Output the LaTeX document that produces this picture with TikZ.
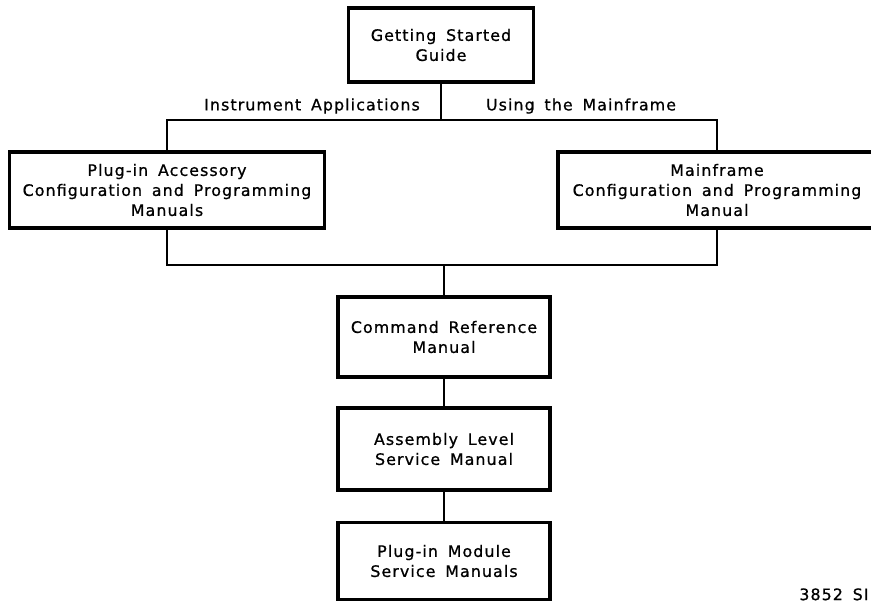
\documentclass[tikz,border=0pt]{standalone}
\usepackage{fontspec}
\setmainfont{DejaVu Sans}[LetterSpace=7, WordSpace=1.6, FakeBold=0.8]
\usetikzlibrary{shadows}

\begin{document}
\begin{tikzpicture}[x=0.02cm, y=-0.02cm,
    manual/.style={draw, fill=white, line width=1.9pt, align=center,
      font=\fontsize{9}{11.4}\selectfont, inner sep=0pt,
      drop shadow={shadow xshift=0.8pt, shadow yshift=-1pt, opacity=1, fill=black}},
    link/.style={line width=1.3pt},
    topic/.style={font=\fontsize{9}{11}\selectfont, inner sep=0pt}]
  \useasboundingbox (0,0) rectangle (871,603);
  \clip (0,0) rectangle (871,603);

  % Manuals
  \node[manual, minimum width=185*0.02cm, minimum height=74*0.02cm] (guide) at (441,45)
    {Getting Started\\Guide};
  \node[manual, minimum width=315*0.02cm, minimum height=76*0.02cm] (accessory) at (167,190)
    {Plug-in Accessory\\Configuration and Programming\\Manuals};
  \node[manual, minimum width=318*0.02cm, minimum height=76*0.02cm] (mainframe) at (717,190)
    {Mainframe\\Configuration and Programming\\Manual};
  \node[manual, minimum width=212*0.02cm, minimum height=80*0.02cm] (cmdref) at (444,337)
    {Command Reference\\Manual};
  \node[manual, minimum width=212*0.02cm, minimum height=82*0.02cm] (assembly) at (444,449)
    {Assembly Level\\Service Manual};
  \node[manual, minimum width=212*0.02cm, minimum height=77*0.02cm] (module) at (444,561)
    {Plug-in Module\\Service Manuals};

  % Branch labels
  \node[topic] (apps) at (312,106) {Instrument Applications};
  \node[topic] (using) at (581,106) {Using the Mainframe};

  % Upper bus
  \coordinate (busL) at (accessory.north |- 0,120);
  \coordinate (busR) at (mainframe.north |- 0,120);
  \draw[link] (guide.south) -- (guide.south |- busL);
  \draw[link] (accessory.north) -- (busL) -- (busR) -- (mainframe.north);

  % Lower bus
  \coordinate (lowL) at (accessory.south |- 0,265);
  \coordinate (lowR) at (mainframe.south |- 0,265);
  \draw[link] (accessory.south) -- (lowL) -- (lowR) -- (mainframe.south);
  \draw[link] (cmdref.north |- lowL) -- (cmdref.north);

  % Service chain
  \foreach \a/\b in {cmdref/assembly, assembly/module}{
    \draw[link] (\a.south) -- (\b.north);
  }

  \node[topic, anchor=north west] (figno) at (799,588) {3852 SI};
\end{tikzpicture}
\end{document}
